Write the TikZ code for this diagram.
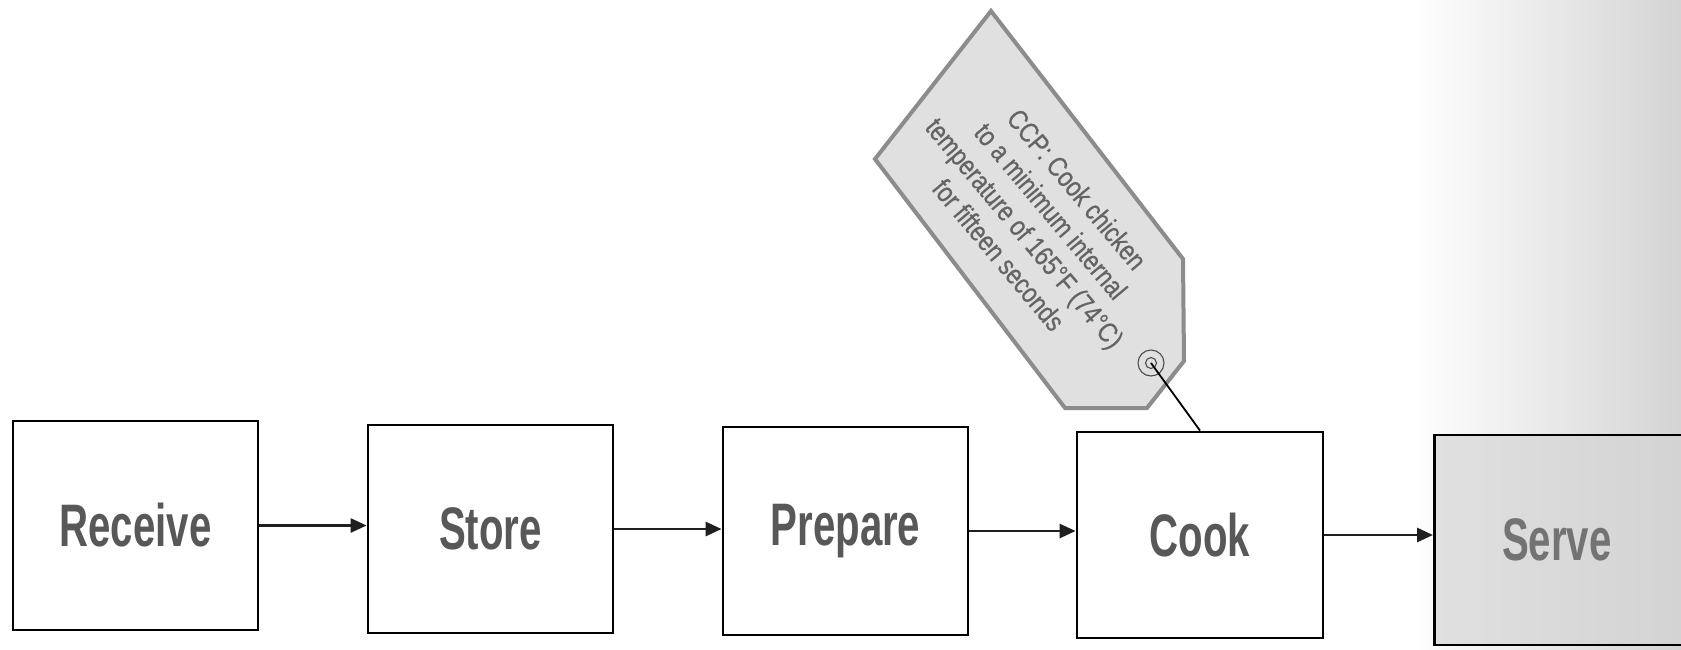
\documentclass[tikz,border=0pt]{standalone}
\usepackage{fontspec}
\setmainfont{Liberation Sans}
\newfontfamily\boxfont[FakeStretch=0.67]{Liberation Sans}
\newfontfamily\tagfont[FakeStretch=0.82,FakeBold=0.6]{Liberation Sans}
\usetikzlibrary{arrows.meta}
\definecolor{boxtext}{RGB}{88,88,88}
\definecolor{tagline}{RGB}{140,140,140}
\definecolor{tagfill}{RGB}{224,224,224}
\definecolor{tagtext}{RGB}{100,100,100}
\definecolor{servefill}{RGB}{224,224,224}
\definecolor{serveright}{RGB}{210,210,210}
\definecolor{bgright}{RGB}{212,212,212}
\begin{document}
\begin{tikzpicture}[x=1pt,y=-1pt,
  stepbox/.style={draw=black, line width=2.8pt, fill=white, inner sep=0pt,
    minimum width=245pt, minimum height=208pt,
    font=\boxfont\bfseries\fontsize{60}{60}\selectfont, text=boxtext},
  arr/.style={draw=black!88, line width=2.8pt, -{Triangle[length=16pt,width=14pt]}},
  tagshape/.style={draw=tagline, fill=tagfill, line width=4pt, line join=miter},
  tagtextstyle/.style={font=\tagfont\fontsize{28}{34}\selectfont, text=tagtext, align=center, inner sep=0pt},
  holestyle/.style={circle, draw=black!70, line width=1.1pt, minimum size=26pt, inner sep=0pt},
  tie/.style={draw=black, line width=1.8pt}]
\useasboundingbox (0,0) rectangle (1681,649);
\clip (0,0) rectangle (1681,649);
\fill[white] (0,0) rectangle (1681,649);
\shade[left color=white, right color=bgright] (1410,0) rectangle (1681,649);

% tag
\draw[tagshape] (991,11) -- (1183,259) -- (1184,361) -- (1147,408) -- (1065,408) -- (875,159) -- cycle;
\node[tagtextstyle, rotate=-50] (tagtext) at (1038,222)
  {CCP: Cook chicken\\to a minimum internal\\temperature of 165°F (74°C)\\for fifteen seconds};
\node[holestyle] (hole) at (1151,363) {};
\draw[draw=black!70, line width=1.1pt] (hole.center) circle (5.5pt);

% steps
\node[stepbox, minimum height=209pt] (receive) at (135.5,525.5) {Receive};
\node[stepbox] (store) at (490.5,529) {Store};
\node[stepbox] (prepare) at (845.5,531) {Prepare};
\node[stepbox, minimum width=246pt, minimum height=206pt] (cook) at (1200,535) {Cook};
\node[stepbox, minimum width=267pt, minimum height=210pt, fill=none, left color=servefill, right color=serveright,
      anchor=west, text=black!55] (serve) at (1433,540) {\hspace*{-22pt}Serve};

% connectors
\draw[arr] (receive.east) -- (receive.east -| store.west);
\draw[arr] (store.east) -- (store.east -| prepare.west);
\draw[arr] (prepare.east) -- (prepare.east -| cook.west);
\draw[arr] (cook.east) -- (cook.east -| serve.west);
\draw[tie] (hole.center) -- (cook.north);
\end{tikzpicture}
\end{document}
